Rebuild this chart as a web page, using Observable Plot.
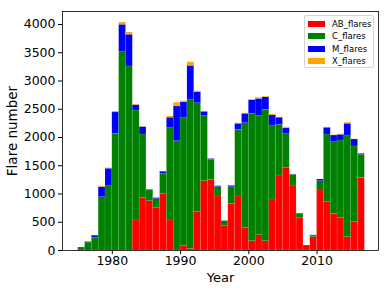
<!DOCTYPE html>
<html><head><meta charset="utf-8">
<script src="https://cdn.jsdelivr.net/npm/d3@7"></script>
<script src="https://cdn.jsdelivr.net/npm/@observablehq/plot@0.6"></script>
<style>
body{margin:0;background:#fff;font-family:"DejaVu Sans",sans-serif;}
#chart{position:relative;width:390px;height:293px;}
#chart svg g[aria-label="x-axis label"] text{font-size:13px;}
#chart svg g[aria-label="y-axis label"] text{font-size:13.5px;}
#legend{position:absolute;left:304px;top:15px;width:70px;height:53px;box-sizing:border-box;border:1px solid #d4d4d4;border-radius:2px;background:rgba(255,255,255,0.8);}
.row{position:absolute;left:0;height:12px;font-size:8.5px;line-height:12px;}
.sw{position:absolute;left:3px;top:3px;width:17px;height:6px;}
.lb{position:absolute;left:27px;top:0;white-space:nowrap;color:#000;}
</style></head><body><div id="chart"></div>
<script>
const years = [1975,1976,1977,1978,1979,1980,1981,1982,1983,1984,1985,1986,1987,1988,1989,1990,1991,1992,1993,1994,1995,1996,1997,1998,1999,2000,2001,2002,2003,2004,2005,2006,2007,2008,2009,2010,2011,2012,2013,2014,2015,2016];
const abFlares = [0,0,0,0,0,0,0,0,531,926,873,749,1003,531,0,77,30,678,1227,1251,956,431,826,956,401,165,271,165,903,1327,1457,1150,572,88,236,1062,855,649,578,236,501,1286];
const cFlares = [53,140,225,943,1150,2065,3510,3257,1947,1127,189,159,354,1634,1935,2265,2643,1929,1151,354,165,88,295,1180,1852,2254,2107,2325,1309,897,613,190,77,0,29,165,1198,1268,1369,1799,1340,407];
const mFlares = [0,10,38,178,297,378,485,561,95,132,12,20,38,185,614,283,595,196,77,15,17,4,24,106,166,240,305,222,180,126,92,4,6,0,3,30,119,118,100,207,124,17];
const xFlares = [0,0,4,18,12,18,40,40,8,8,2,2,4,22,65,18,65,18,6,2,2,1,2,10,8,14,20,12,20,10,18,4,1,0,0,0,8,8,12,20,2,0];
const seriesNames = ["AB_flares","C_flares","M_flares","X_flares"];
const seriesColors = ["#ff0000","#008000","#0000ff","#ffa500"];
const xTicks = [1980,1990,2000,2010];
const yTicks = [0,500,1000,1500,2000,2500,3000,3500,4000];

const seriesValues = [abFlares, cFlares, mFlares, xFlares];
const rows = [];
years.forEach((yr, i) => {
  seriesValues.forEach((arr, k) => rows.push({year: yr, year2: yr + 1, series: seriesNames[k], value: arr[i]}));
});

const plot = Plot.plot({
  width: 390, height: 293,
  marginLeft: 62, marginRight: 12, marginTop: 11, marginBottom: 43,
  style: {fontFamily: "DejaVu Sans", fontSize: "12.5px", background: "white", color: "black", overflow: "visible"},
  x: {domain: [1972.7, 2019.0], ticks: xTicks, tickFormat: "d", tickSize: 4, tickPadding: 2,
      label: "Year", labelAnchor: "center", labelOffset: 31, labelArrow: false},
  y: {domain: [0, 4230], ticks: yTicks, tickFormat: "d", tickSize: 4, tickPadding: 3,
      label: "Flare number", labelAnchor: "center", labelOffset: 55, labelArrow: false},
  color: {domain: seriesNames, range: seriesColors},
  marks: [
    Plot.rectY(rows, Plot.stackY({x1: "year", x2: "year2", y: "value", fill: "series",
      stroke: "white", strokeOpacity: 0.18, strokeWidth: 0.5})),
    Plot.frame({stroke: "black", strokeWidth: 0.8})
  ]
});
const chart = document.getElementById("chart");
chart.appendChild(plot);

const legend = document.createElement("div");
legend.id = "legend";
const rowTops = [1.7, 13.7, 26.7, 39.3];
seriesNames.forEach((name, k) => {
  const r = document.createElement("div");
  r.className = "row";
  r.style.top = rowTops[k] + "px";
  const sw = document.createElement("div");
  sw.className = "sw";
  sw.style.background = seriesColors[k];
  const lb = document.createElement("div");
  lb.className = "lb";
  lb.textContent = name;
  r.appendChild(sw); r.appendChild(lb);
  legend.appendChild(r);
});
chart.appendChild(legend);
</script></body></html>
